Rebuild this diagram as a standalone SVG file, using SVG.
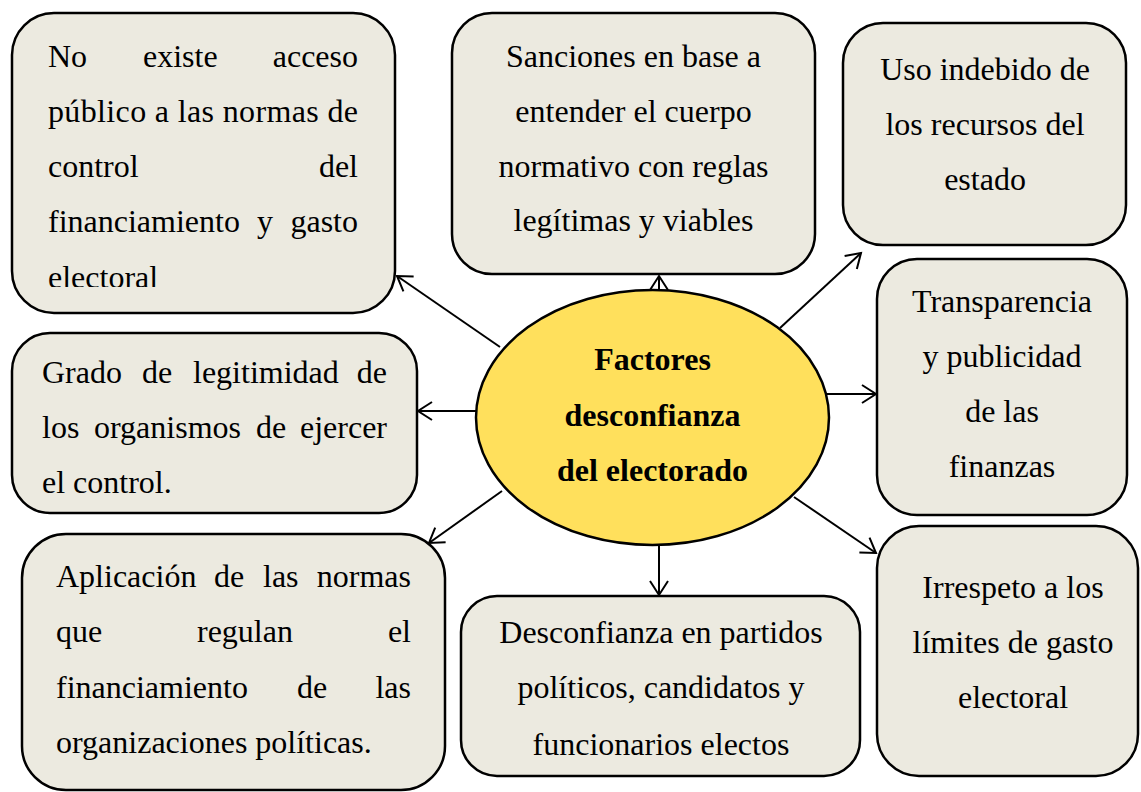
<svg xmlns="http://www.w3.org/2000/svg" width="1141" height="792" viewBox="0 0 1141 792">
<style>
.box{fill:#ECEAE0;stroke:#000;stroke-width:2.5}
.t{font-family:"Liberation Serif","Times New Roman",serif;font-size:32px;fill:#000}
.c{text-anchor:middle}
.e{text-anchor:end}
.b{font-weight:bold}
.conn line{stroke:#000;stroke-width:2;fill:none;marker-end:url(#arr)}
</style>
<defs>
<marker id="arr" markerUnits="userSpaceOnUse" markerWidth="18" markerHeight="22" refX="15" refY="10" orient="auto" overflow="visible">
<path d="M1,1 L15,10 L1,19" fill="none" stroke="#000" stroke-width="2"/>
</marker>
<clipPath id="clip1"><rect x="0" y="0" width="420" height="287"/></clipPath>
</defs>
<rect width="1141" height="792" fill="#fff"/>
<g class="conn">
<line x1="500" y1="347" x2="397" y2="276"/>
<line x1="659" y1="293" x2="659" y2="276"/>
<line x1="780" y1="328" x2="861" y2="253"/>
<line x1="827" y1="394" x2="876" y2="394"/>
<line x1="794" y1="497" x2="876" y2="553"/>
<line x1="659" y1="545" x2="659" y2="595"/>
<line x1="502" y1="491" x2="429" y2="543"/>
<line x1="476" y1="411" x2="418" y2="411"/>
</g>
<g id="center">
<ellipse cx="652.5" cy="417.5" rx="176.5" ry="127.5" fill="#FFE05C" stroke="#000" stroke-width="2.5"/>
<text class="t c b" x="652.5" y="370">Factores</text>
<text class="t c b" x="652.5" y="426">desconfianza</text>
<text class="t c b" x="652.5" y="481">del electorado</text>
</g>
<g id="n1">
<rect class="box" x="12" y="13" width="383" height="300" rx="42"/>
<text class="t" x="48" y="67">No</text>
<text class="t" x="143" y="67">existe</text>
<text class="t e" x="358" y="67">acceso</text>
<text class="t" x="48" y="122" textLength="310" lengthAdjust="spacing">público a las normas de</text>
<text class="t" x="48" y="177">control</text>
<text class="t e" x="358" y="177">del</text>
<text class="t" x="48" y="232">financiamiento</text>
<text class="t" x="257" y="232">y</text>
<text class="t e" x="358" y="232">gasto</text>
<text class="t" x="48" y="288" clip-path="url(#clip1)">electoral</text>
</g>
<g id="n2">
<rect class="box" x="452" y="13" width="363" height="261" rx="40"/>
<text class="t c" x="633.5" y="67">Sanciones en base a</text>
<text class="t c" x="633.5" y="122">entender el cuerpo</text>
<text class="t c" x="633.5" y="177">normativo con reglas</text>
<text class="t c" x="633.5" y="231">legítimas y viables</text>
</g>
<g id="n3">
<rect class="box" x="843" y="23" width="283" height="222" rx="40"/>
<text class="t c" x="985" y="80">Uso indebido de</text>
<text class="t c" x="985" y="135">los recursos del</text>
<text class="t c" x="985" y="190">estado</text>
</g>
<g id="n4">
<rect class="box" x="877" y="259" width="250" height="256" rx="40"/>
<text class="t c" x="1002" y="312">Transparencia</text>
<text class="t c" x="1002" y="367">y publicidad</text>
<text class="t c" x="1002" y="422">de las</text>
<text class="t c" x="1002" y="477">finanzas</text>
</g>
<g id="n5">
<rect class="box" x="12" y="333" width="405" height="180" rx="38"/>
<text class="t" x="42" y="383">Grado</text>
<text class="t" x="142" y="383">de</text>
<text class="t" x="193" y="383">legitimidad</text>
<text class="t e" x="387" y="383">de</text>
<text class="t" x="42" y="438">los</text>
<text class="t" x="94" y="438">organismos</text>
<text class="t" x="256" y="438">de</text>
<text class="t e" x="387" y="438">ejercer</text>
<text class="t" x="42" y="493">el control.</text>
</g>
<g id="n6">
<rect class="box" x="461" y="596" width="399" height="180" rx="36"/>
<text class="t c" x="661" y="643">Desconfianza en partidos</text>
<text class="t c" x="661" y="698">políticos, candidatos y</text>
<text class="t c" x="661" y="755">funcionarios electos</text>
</g>
<g id="n7">
<rect class="box" x="877" y="526" width="261" height="250" rx="42"/>
<text class="t c" x="1013" y="598">Irrespeto a los</text>
<text class="t c" x="1013" y="653">límites de gasto</text>
<text class="t c" x="1013" y="708">electoral</text>
</g>
<g id="n8">
<rect class="box" x="22" y="534" width="423" height="256" rx="44"/>
<text class="t" x="56" y="587">Aplicación</text>
<text class="t" x="214" y="587">de</text>
<text class="t" x="263" y="587">las</text>
<text class="t e" x="411" y="587">normas</text>
<text class="t" x="56" y="642">que</text>
<text class="t" x="197" y="642">regulan</text>
<text class="t e" x="411" y="642">el</text>
<text class="t" x="56" y="698">financiamiento</text>
<text class="t" x="297" y="698">de</text>
<text class="t e" x="411" y="698">las</text>
<text class="t" x="56" y="753">organizaciones políticas.</text>
</g>
</svg>
